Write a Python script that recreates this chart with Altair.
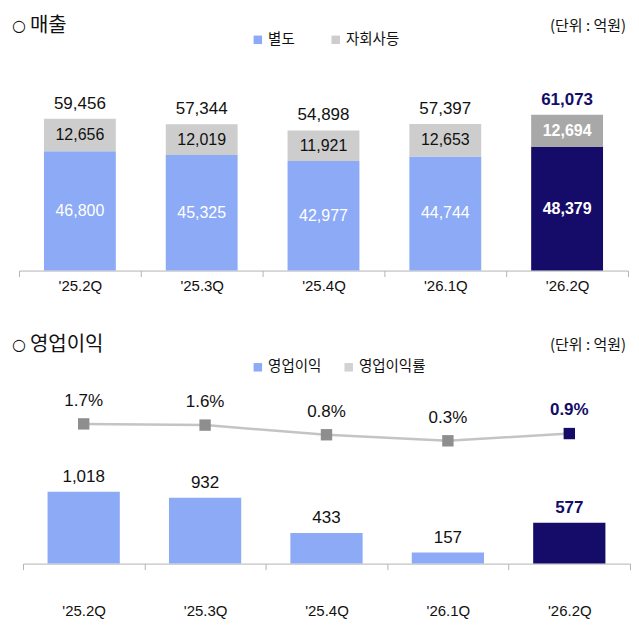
import altair as alt
import pandas as pd

quarters = ["'25.2Q", "'25.3Q", "'25.4Q", "'26.1Q", "'26.2Q"]
standalone = [46800, 45325, 42977, 44744, 48379]
subsidiaries = [12656, 12019, 11921, 12653, 12694]
totals = [59456, 57344, 54898, 57397, 61073]
op_income = [1018, 932, 433, 157, 577]
op_margin = [1.7, 1.6, 0.8, 0.3, 0.9]
highlight = [False, False, False, False, True]

BLUE = "#8CAAF5"
NAVY = "#140C68"
GRAY = "#CDCDCD"
GRAY_HL = "#A8A8A8"
NUMF = "Liberation Sans"
KRF = "Noto Sans CJK KR"

# ---------- data tables ----------
seg_rows = []
for q, s, sub, hl in zip(quarters, standalone, subsidiaries, highlight):
    seg_rows.append(dict(q=q, seg="별도", key="별도 강조" if hl else "별도",
                         y0=0, y1=s, mid=s / 2, val=s, hl=hl))
    seg_rows.append(dict(q=q, seg="자회사등", key="자회사등 강조" if hl else "자회사등",
                         y0=s, y1=s + sub, mid=s + sub / 2, val=sub, hl=hl))
seg = pd.DataFrame(seg_rows)
tot = pd.DataFrame(dict(q=quarters, total=totals, hl=highlight))
op = pd.DataFrame(dict(q=quarters, inc=op_income, mar=op_margin, hl=highlight,
                       key=["영업이익 강조" if h else "영업이익" for h in highlight],
                       mlab=[f"{m:.1f}%" for m in op_margin]))
one = pd.DataFrame({"a": [0]})

axis_common = dict(title=None, labelAngle=0, tickBand="extent", domainColor="#B4B4B4",
                   tickColor="#B4B4B4", tickSize=6, labelFont=NUMF, labelFontSize=15,
                   labelColor="#111111", grid=False)


def header(title, y):
    circ = alt.Chart(one).mark_text(font="DejaVu Sans", fontSize=16, align="left",
                                    baseline="middle", color="#111111", text="○").encode(
        x=alt.value(-7), y=alt.value(y))
    ttl = alt.Chart(one).mark_text(font=KRF, fontSize=20, align="left", baseline="middle",
                                   color="#111111", text=title).encode(
        x=alt.value(11), y=alt.value(y))
    unit = alt.Chart(one).mark_text(font=KRF, fontSize=15, align="right", baseline="middle",
                                    color="#111111", text="(단위 : 억원)").encode(
        x=alt.value(608), y=alt.value(y))
    return [circ, ttl, unit]


def legend(values, pad):
    return alt.Legend(values=values, title=None, orient="none", legendX=232, legendY=-29,
                      direction="horizontal", symbolType="square", symbolSize=72,
                      symbolStrokeWidth=0, labelFont=KRF, labelFontSize=14.5,
                      labelColor="#111111", labelOffset=3, columnPadding=pad)


# ---------- top chart: 매출 ----------
TOP_H = 209.5
xt = alt.X("q:N", sort=quarters,
           scale=alt.Scale(domain=quarters, range=[0, 610], paddingInner=0, paddingOuter=0),
           axis=alt.Axis(labelPadding=2, **axis_common))
yt = alt.Scale(domain=[0, 81964])

bars_t = alt.Chart(seg).mark_bar(width=alt.RelativeBandSize(0.59)).encode(
    x=xt,
    y=alt.Y("y0:Q", scale=yt, axis=None),
    y2="y1:Q",
    color=alt.Color("key:N",
                    scale=alt.Scale(domain=["별도", "자회사등", "별도 강조", "자회사등 강조"],
                                    range=[BLUE, GRAY, NAVY, GRAY_HL]),
                    legend=legend(["별도", "자회사등"], 33)),
)

seg_lab = alt.Chart(seg).transform_filter("!datum.hl").mark_text(
    font=NUMF, fontSize=16, baseline="middle").encode(
    x=xt, y=alt.Y("mid:Q", scale=yt, axis=None),
    text=alt.Text("val:Q", format=",d"),
    color=alt.condition("datum.seg == '별도'", alt.value("white"), alt.value("#111111")),
)
seg_lab_hl = alt.Chart(seg).transform_filter("datum.hl").mark_text(
    font=NUMF, fontSize=16, fontWeight="bold", baseline="middle", color="white").encode(
    x=xt, y=alt.Y("mid:Q", scale=yt, axis=None),
    text=alt.Text("val:Q", format=",d"),
)
tot_lab = alt.Chart(tot).transform_filter("!datum.hl").mark_text(
    font=NUMF, fontSize=17, baseline="middle", dy=-15, color="#111111").encode(
    x=xt, y=alt.Y("total:Q", scale=yt, axis=None),
    text=alt.Text("total:Q", format=",d"),
)
tot_lab_hl = alt.Chart(tot).transform_filter("datum.hl").mark_text(
    font=NUMF, fontSize=17, fontWeight="bold", baseline="middle", dy=-15, color=NAVY).encode(
    x=xt, y=alt.Y("total:Q", scale=yt, axis=None),
    text=alt.Text("total:Q", format=",d"),
)

top = alt.layer(bars_t, seg_lab, seg_lab_hl, tot_lab, tot_lab_hl,
                *header("매출", -35.5)).properties(width=612, height=TOP_H)

# ---------- bottom chart: 영업이익 ----------
BOT_H = 175
xb = alt.X("q:N", sort=quarters,
           scale=alt.Scale(domain=quarters, range=[4, 612], paddingInner=0, paddingOuter=0),
           axis=alt.Axis(labelPadding=34, **axis_common))
yb_bar = alt.Scale(domain=[0, 2475])
yb_line = alt.Scale(domain=[-9.87, 4.6])

bars_b = alt.Chart(op).mark_bar(width=alt.RelativeBandSize(0.595)).encode(
    x=xb,
    y=alt.Y("inc:Q", scale=yb_bar, axis=None),
    color=alt.Color("key:N",
                    scale=alt.Scale(domain=["영업이익", "영업이익률", "영업이익 강조"],
                                    range=[BLUE, "#D2D2D2", NAVY]),
                    legend=legend(["영업이익", "영업이익률"], 20)),
)
inc_lab = alt.Chart(op).transform_filter("!datum.hl").mark_text(
    font=NUMF, fontSize=17, baseline="middle", dy=-15, color="#111111").encode(
    x=xb, y=alt.Y("inc:Q", scale=yb_bar, axis=None),
    text=alt.Text("inc:Q", format=",d"),
)
inc_lab_hl = alt.Chart(op).transform_filter("datum.hl").mark_text(
    font=NUMF, fontSize=17, fontWeight="bold", baseline="middle", dy=-15, color=NAVY).encode(
    x=xb, y=alt.Y("inc:Q", scale=yb_bar, axis=None),
    text=alt.Text("inc:Q", format=",d"),
)
line_b = alt.Chart(op).mark_line(color="#C4C4C4", strokeWidth=2.5).encode(
    x=xb, y=alt.Y("mar:Q", scale=yb_line, axis=None),
)
pts_b = alt.Chart(op).mark_point(shape="square", filled=True, size=130, opacity=1).encode(
    x=xb, y=alt.Y("mar:Q", scale=yb_line, axis=None),
    color=alt.condition("datum.hl", alt.value(NAVY), alt.value("#8E8E8E")),
)
mar_lab = alt.Chart(op).transform_filter("!datum.hl").mark_text(
    font=NUMF, fontSize=17, baseline="middle", dy=-23, color="#111111").encode(
    x=xb, y=alt.Y("mar:Q", scale=yb_line, axis=None), text="mlab:N",
)
mar_lab_hl = alt.Chart(op).transform_filter("datum.hl").mark_text(
    font=NUMF, fontSize=17, fontWeight="bold", baseline="middle", dy=-24, color=NAVY).encode(
    x=xb, y=alt.Y("mar:Q", scale=yb_line, axis=None), text="mlab:N",
)

bottom = alt.layer(bars_b, inc_lab, inc_lab_hl, line_b, pts_b, mar_lab, mar_lab_hl,
                   *header("영업이익", -44)).resolve_scale(y="independent").properties(
    width=612, height=BOT_H)

chart = alt.vconcat(top, bottom, spacing=41).resolve_scale(color="independent").properties(
    padding={"left": 4, "top": 7, "right": 0, "bottom": 0},
    background="white",
).configure_view(stroke=None)

chart.save("out.html", embed_options={"renderer": "svg", "actions": False})
